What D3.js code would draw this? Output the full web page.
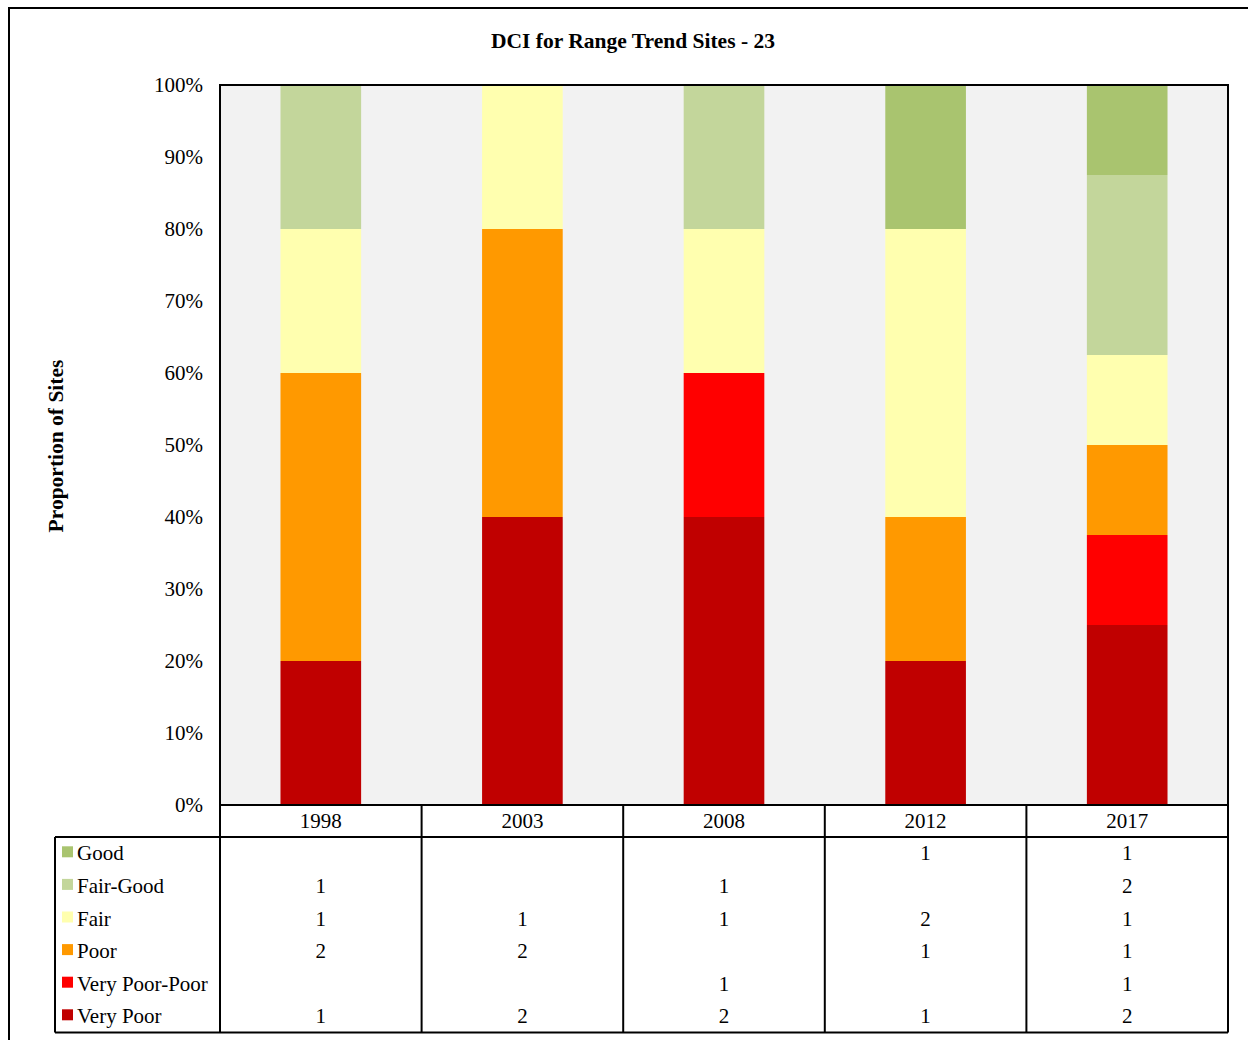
<!DOCTYPE html>
<html><head><meta charset="utf-8">
<script src="https://cdn.jsdelivr.net/npm/d3@7"></script>
<style>body{margin:0;background:#fff}svg{display:block}</style>
</head><body>
<svg id="c" width="1248" height="1040"></svg>
<script>
const years = ["1998","2003","2008","2012","2017"];
const categories = ["Very Poor","Very Poor-Poor","Poor","Fair","Fair-Good","Good"];
const colors = ["#C00000","#FF0000","#FF9900","#FFFFAF","#C3D69B","#A9C46F"];
// counts per category (order of categories), per year; null = blank cell
const veryPoor     = [1, 2, 2, 1, 2];
const veryPoorPoor = [null, null, 1, null, 1];
const poor         = [2, 2, null, 1, 1];
const fair         = [1, 1, 1, 2, 1];
const fairGood     = [1, null, 1, null, 2];
const good         = [null, null, null, 1, 1];
const yTicks = [0,0.1,0.2,0.3,0.4,0.5,0.6,0.7,0.8,0.9,1];

const series = [veryPoor, veryPoorPoor, poor, fair, fairGood, good];
const font = "Liberation Serif, Times New Roman, serif";

const svg = d3.select("#c");
const M = {l:220, r:1228, t:85, b:805};
const x = d3.scaleBand().domain(years).range([M.l, M.r]).paddingInner(0).paddingOuter(0);
const y = d3.scaleLinear().domain([0,1]).range([M.b, M.t]);
const barW = x.bandwidth()*0.4;

// outer frame
svg.append("rect").attr("x",9).attr("y",8).attr("width",1400).attr("height",1200)
  .attr("fill","#fff").attr("stroke","#000").attr("stroke-width",2);

// title
svg.append("text").attr("x",633).attr("y",48).attr("text-anchor","middle")
  .attr("font-family",font).attr("font-weight","bold").attr("font-size",21.5)
  .text("DCI for Range Trend Sites - 23");

// plot background
svg.append("rect").attr("x",M.l).attr("y",M.t).attr("width",M.r-M.l).attr("height",M.b-M.t)
  .attr("fill","#F2F2F2");

// stacked data
const table = years.map((yr,i)=>{
  const o = {year:yr};
  categories.forEach((c,j)=>o[c] = series[j][i] || 0);
  return o;
});
const totals = table.map(d=>categories.reduce((s,c)=>s+d[c],0));
const propData = table.map((d,i)=>{
  const o={year:d.year};
  categories.forEach(c=>o[c]=d[c]/totals[i]);
  return o;
});
const stack = d3.stack().keys(categories)(propData);

svg.append("g").selectAll("g").data(stack).join("g")
  .attr("fill",(d,i)=>colors[i])
  .selectAll("rect").data(d=>d).join("rect")
  .attr("x",d=>x(d.data.year)+(x.bandwidth()-barW)/2)
  .attr("width",barW)
  .attr("y",d=>y(d[1]))
  .attr("height",d=>y(d[0])-y(d[1]));

// y axis labels
const yAxis = d3.axisLeft(y).tickValues(yTicks).tickFormat(d3.format(".0%")).tickSize(0).tickPadding(17);
const ga = svg.append("g").attr("transform",`translate(${M.l},0)`).call(yAxis);
ga.select(".domain").remove();
ga.selectAll("text").attr("font-family",font).attr("font-size",21).attr("fill","#000");

// plot border
svg.append("path").attr("d",`M${M.l},${M.b}V${M.t}H${M.r}V${M.b}`)
  .attr("fill","none").attr("stroke","#000").attr("stroke-width",2);

// y-axis title
svg.append("text").attr("transform",`translate(63,446) rotate(-90)`).attr("text-anchor","middle")
  .attr("font-family",font).attr("font-weight","bold").attr("font-size",21.5)
  .text("Proportion of Sites");

// data table
const headerH = 32;
const tableTop = M.b + headerH;
const rowH = 32.6;
const tableLeft = 55;
const rowsTopDown = categories.slice().reverse();
const colorsTopDown = colors.slice().reverse();
const seriesTopDown = series.slice().reverse();
const tableBottom = tableTop + rowH*rowsTopDown.length;

const tg = svg.append("g");
const line = (x1,y1,x2,y2)=>tg.append("line").attr("x1",x1).attr("y1",y1).attr("x2",x2).attr("y2",y2)
  .attr("stroke","#000").attr("stroke-width",2);

// header
years.forEach(yr=>{
  tg.append("text").attr("x",x(yr)+x.bandwidth()/2).attr("y",M.b+23).attr("text-anchor","middle")
    .attr("font-family",font).attr("font-size",21).text(yr);
});
// rows
rowsTopDown.forEach((c,r)=>{
  const cy = tableTop + rowH*r + rowH/2;
  tg.append("rect").attr("x",62).attr("y",cy-7).attr("width",11).attr("height",11).attr("fill",colorsTopDown[r]);
  tg.append("text").attr("x",77).attr("y",cy+7).attr("font-family",font).attr("font-size",21).text(c);
  seriesTopDown[r].forEach((v,i)=>{
    if(v==null) return;
    tg.append("text").attr("x",x(years[i])+x.bandwidth()/2).attr("y",cy+7).attr("text-anchor","middle")
      .attr("font-family",font).attr("font-size",21).text(v);
  });
});
// grid lines
line(M.l, M.b, M.r, M.b);
line(tableLeft, tableTop, M.r, tableTop);
line(tableLeft, tableBottom, M.r, tableBottom);
line(tableLeft, tableTop, tableLeft, tableBottom);
years.forEach(yr=>line(x(yr), M.b, x(yr), tableBottom));
line(M.r, M.b, M.r, tableBottom);
</script>
</body></html>
